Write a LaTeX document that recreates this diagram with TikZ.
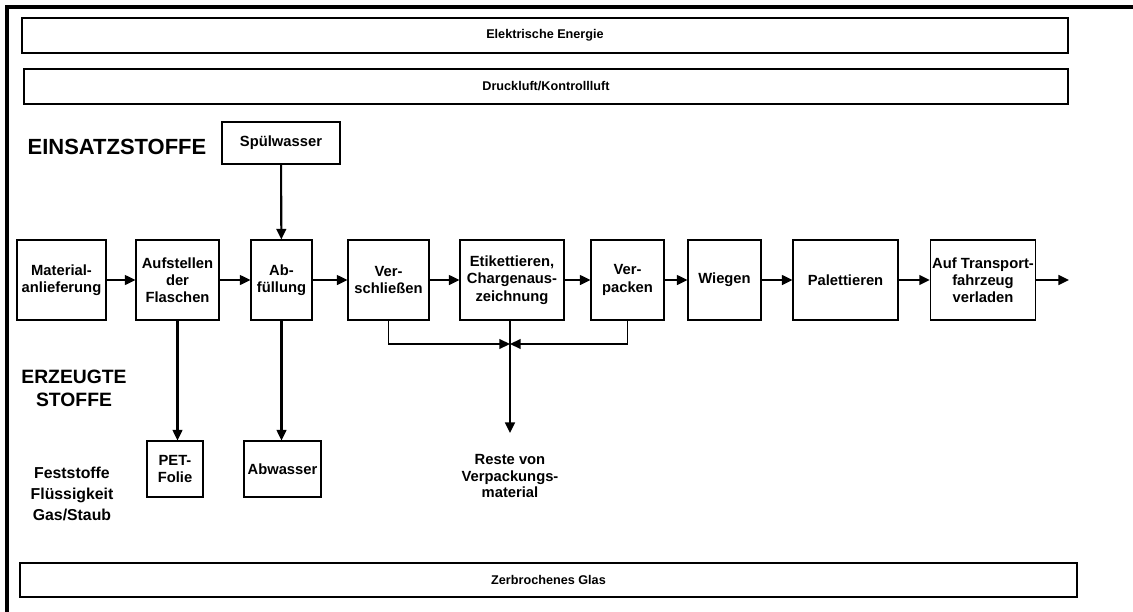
\documentclass[tikz,border=0pt]{standalone}
\usepackage{fontspec}
\setmainfont{Liberation Sans}
\usetikzlibrary{arrows.meta, positioning}

\begin{document}
\begin{tikzpicture}[x=0.02cm, y=-0.02cm,
    schritt/.style={draw, line width=0.6pt, align=center, inner sep=1pt,
      minimum height=1.6cm, font=\bfseries\fontsize{8.4}{9.8}\selectfont},
    balken/.style={draw, line width=0.7pt, minimum height=0.7cm,
      font=\bfseries\fontsize{7.2}{8}\selectfont},
    pfeil/.style={-{Triangle[length=6pt, width=5.5pt]}, line width=1.2pt},
    titel/.style={align=center, font=\bfseries\fontsize{12.5}{14}\selectfont}]
  \useasboundingbox (0,0) rectangle (1133,612);
  % Rahmen
  \draw[line width=1.8pt] (5,7) -- (1133,7);
  \draw[line width=1.8pt] (7,5) -- (7,612);
  % Versorgung oben, Glas unten
  \node[balken, minimum width=20.92cm] (strom) at (545,35.5) {Elektrische Energie};
  \node[balken, minimum width=20.88cm] (luft) at (546,86.5) {Druckluft/Kontrollluft};
  \node[balken, minimum width=21.14cm, minimum height=0.68cm] (glas) at (548.5,580) {Zerbrochenes Glas};
  % Einsatzstoffe
  \node[titel] (einsatz) at (117,147) {EINSATZSTOFFE};
  \node[schritt, minimum width=2.36cm, minimum height=0.84cm] (spuel) at (281,143) {Spülwasser};
  % Prozesskette
  \node[schritt, minimum width=1.78cm] (material) at (61.5,280) {Material-\\anlieferung};
  \node[schritt, minimum width=1.66cm] (aufstellen) at (177.5,280) {Aufstellen\\der\\Flaschen};
  \node[schritt, minimum width=1.22cm] (abfuell) at (281.5,280) {Ab-\\füllung};
  \node[schritt, minimum width=1.62cm] (verschl) at (388.5,280) {Ver-\\schließen};
  \node[schritt, minimum width=2.08cm] (etikett) at (512,280) {Etikettieren,\\Chargenaus-\\zeichnung};
  \node[schritt, minimum width=1.46cm] (verpack) at (627.5,280) {Ver-\\packen};
  \node[schritt, minimum width=1.46cm] (wiegen) at (724.5,280) {Wiegen};
  \node[schritt, minimum width=2.10cm] (palett) at (845.5,280) {Palettieren};
  \node[schritt, minimum width=2.08cm] (verladen) at (983,280) {Auf Transport-\\fahrzeug\\verladen};
  \coordinate (ausgang) at (1069,280);
  \draw[pfeil] (material) -- (aufstellen);
  \draw[pfeil] (aufstellen) -- (abfuell);
  \draw[pfeil] (abfuell) -- (verschl);
  \draw[pfeil] (verschl) -- (etikett);
  \draw[pfeil] (etikett) -- (verpack);
  \draw[pfeil] (verpack) -- (wiegen);
  \draw[pfeil] (wiegen) -- (palett);
  \draw[pfeil] (palett) -- (verladen);
  \draw[pfeil] (verladen) -- (ausgang);
  \draw[pfeil] (spuel) -- (abfuell);
  % Erzeugte Stoffe
  \node[titel, font=\bfseries\fontsize{11}{13}\selectfont] (erzeugt) at (74,388) {ERZEUGTE\\STOFFE};
  \node[titel, font=\bfseries\fontsize{9}{12}\selectfont] (arten) at (72,494) {Feststoffe\\Flüssigkeit\\Gas/Staub};
  \node[schritt, minimum width=1.12cm, minimum height=1.12cm] (pet) at (175,469) {PET-\\Folie};
  \node[schritt, minimum width=1.54cm, minimum height=1.12cm] (abwasser) at (282.5,469) {Abwasser};
  \node[titel, font=\bfseries\fontsize{8.4}{9.5}\selectfont] (reste) at (510,476) {Reste von\\Verpackungs-\\material};
  \draw[pfeil] (aufstellen.south) -- (aufstellen.south |- pet.north);
  \draw[pfeil] (abfuell.south) -- (abfuell.south |- abwasser.north);
  % Sammelleitung Verpackungsreste
  \coordinate (sammel) at (510,344);
  \coordinate (restepfeil) at (510,433);
  \draw[line width=1.2pt] (etikett.south -| sammel) -- (sammel);
  \draw[pfeil] (sammel) -- (restepfeil);
  \draw[pfeil, line width=0.9pt] (verschl.south) |- (sammel);
  \draw[pfeil, line width=0.9pt] (verpack.south) |- (sammel);
\end{tikzpicture}
\end{document}
